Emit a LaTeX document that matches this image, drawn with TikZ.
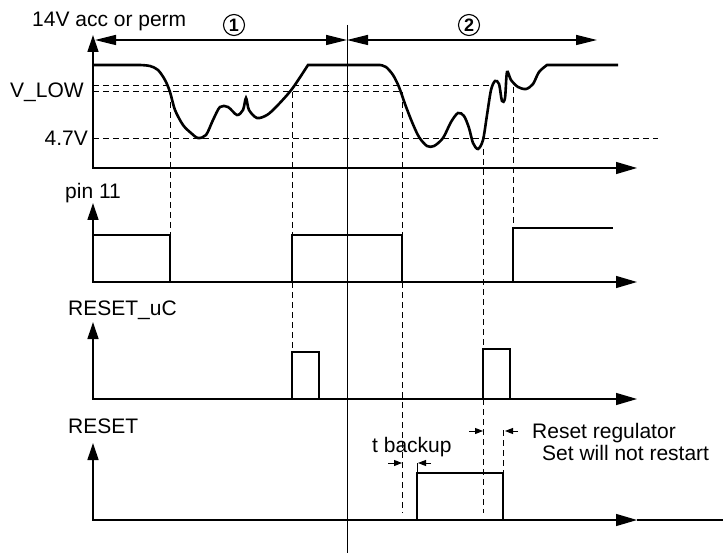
\documentclass[tikz,border=0pt]{standalone}
\usepackage{fontspec}
\setmainfont{Liberation Sans}
\usetikzlibrary{positioning,arrows.meta}
\tikzset{
axis/.style={line width=1.3pt, {Triangle[length=17pt,width=11pt]}-{Triangle[length=21pt,width=12pt]}}, % axes of each signal
wave/.style={line width=2.6pt, line join=miter}, % the signals themselves
guide/.style={line width=1pt, dash pattern=on 6pt off 4pt}, % dashed helper lines
span/.style={line width=1.3pt, {Triangle[length=21pt,width=10pt]}-{Triangle[length=21pt,width=10pt]}}, % phase arrows
pointer/.style={line width=1pt, -{Triangle[length=8pt,width=6pt]}}, % small time markers
lbl/.style={font=\fontsize{21}{25}\selectfont, inner sep=0pt, anchor=base west}, % text
circ/.style={draw, circle, line width=1.1pt, minimum size=21pt, inner sep=0pt, font=\fontsize{18}{20}\selectfont\bfseries},
}

\begin{document}
\begin{tikzpicture}[x=1pt, y=-1pt]
\useasboundingbox (0,0) rectangle (725,553);

% origins of the four axes
\coordinate (o1) at (93,168);
\coordinate (o2) at (93,282);
\coordinate (o3) at (93,399);
\coordinate (o4) at (93,520);

% labels
\node[lbl] (lsupply) at (32,27) {14V acc or perm};
\node[lbl] (lvlow) at (10,98) {V\_LOW};
\node[lbl, anchor=base east] (l47) at (88,146) {4.7V};
\node[lbl] (lpin) at (65,199) {pin 11};
\node[lbl] (luc) at (68,315) {RESET\_uC};
\node[lbl] (lreset) at (68,433) {RESET};
\node[lbl] (lbackup) at (372,452) {t backup};
\node[lbl] (lreg) at (532,438) {Reset regulator};
\node[lbl] (lrestart) at (542,460) {Set will not restart};
\node[circ] (n1) at (234,25) {1};
\node[circ] (n2) at (469,25) {2};

% axes
\draw[axis] (93,35) -- (o1) -- (637,168);
\draw[axis] (93,203) -- (o2) -- (637,282);
\draw[axis] (93,322) -- (o3) -- (637,399);
\draw[axis] (93,443) -- (o4) -- (637,520);
\draw[line width=1.3pt] (637,520) -- (723,520);

% phases
\coordinate (split) at (347,40);
\draw[span] (95,40) -- (split);
\draw[span] (split) -- (597,40);
\draw[line width=1pt] (347,25) -- (347,553);

% thresholds
\draw[guide] (93,86) -- (490,86);
\draw[guide] (93,92) -- (402,92);
\draw[guide] (93,139) -- (658,139);

% dashed time lines
\draw[guide] (170,92) -- (170,235);
\draw[guide] (292,92) -- (292,352);
\draw[guide] (402,92) -- (402,513);
\draw[guide] (483,149) -- (483,513);
\draw[guide] (513,87) -- (513,228);
\draw[guide] (503,430) -- (503,473);
\draw[line width=1pt] (417,463) -- (417,473);

% supply voltage
\draw[wave] (93,65) -- (140,65) -- plot[smooth, tension=0.5] coordinates {
(140,65) (150,66) (158,70) (165,80) (170,92) (175,110) (183,125) (191,133)
(198,138) (206,135) (213,120) (220,107) (228,107) (237,115) (243,110) (246,98)
(249,110) (257,118) (267,115) (277,106) (292,89) (308,65)}
  -- (380,65) -- plot[smooth, tension=0.5] coordinates {
(380,65) (386,67) (393,75) (399,87) (405,104) (412,122) (419,137) (427,146) (434,146)
(443,138) (451,122) (458,113) (464,116) (469,128) (473,143) (478,149) (483,140)
(487,115) (491,90) (495,81) (499,84) (502,101) (505,98) (507,72) (511,80)
(518,87) (526,89) (533,84) (539,72) (547,65)} -- (618,65);

% pin 11
\draw[wave] (o2 |- 0,235) -- (170,235) -- (170,282) -- (292,282) -- (292,235)
  -- (402,235) -- (402,282) -- (513,282) -- (513,228) -- (613,228);

% RESET_uC
\draw[wave] (292,399) -- (292,352) -- (319,352) -- (319,399);
\draw[wave] (483,399) -- (483,349) -- (510,349) -- (510,399);

% RESET
\draw[wave] (417,520) -- (417,473) -- (503,473) -- (503,520);

% markers
\draw[pointer] (388,463) -- (402,463);
\draw[pointer] (431,463) -- (418,463);
\draw[pointer] (469,431) -- (483,431);
\draw[pointer] (518,431) -- (505,431);
\end{tikzpicture}
\end{document}
